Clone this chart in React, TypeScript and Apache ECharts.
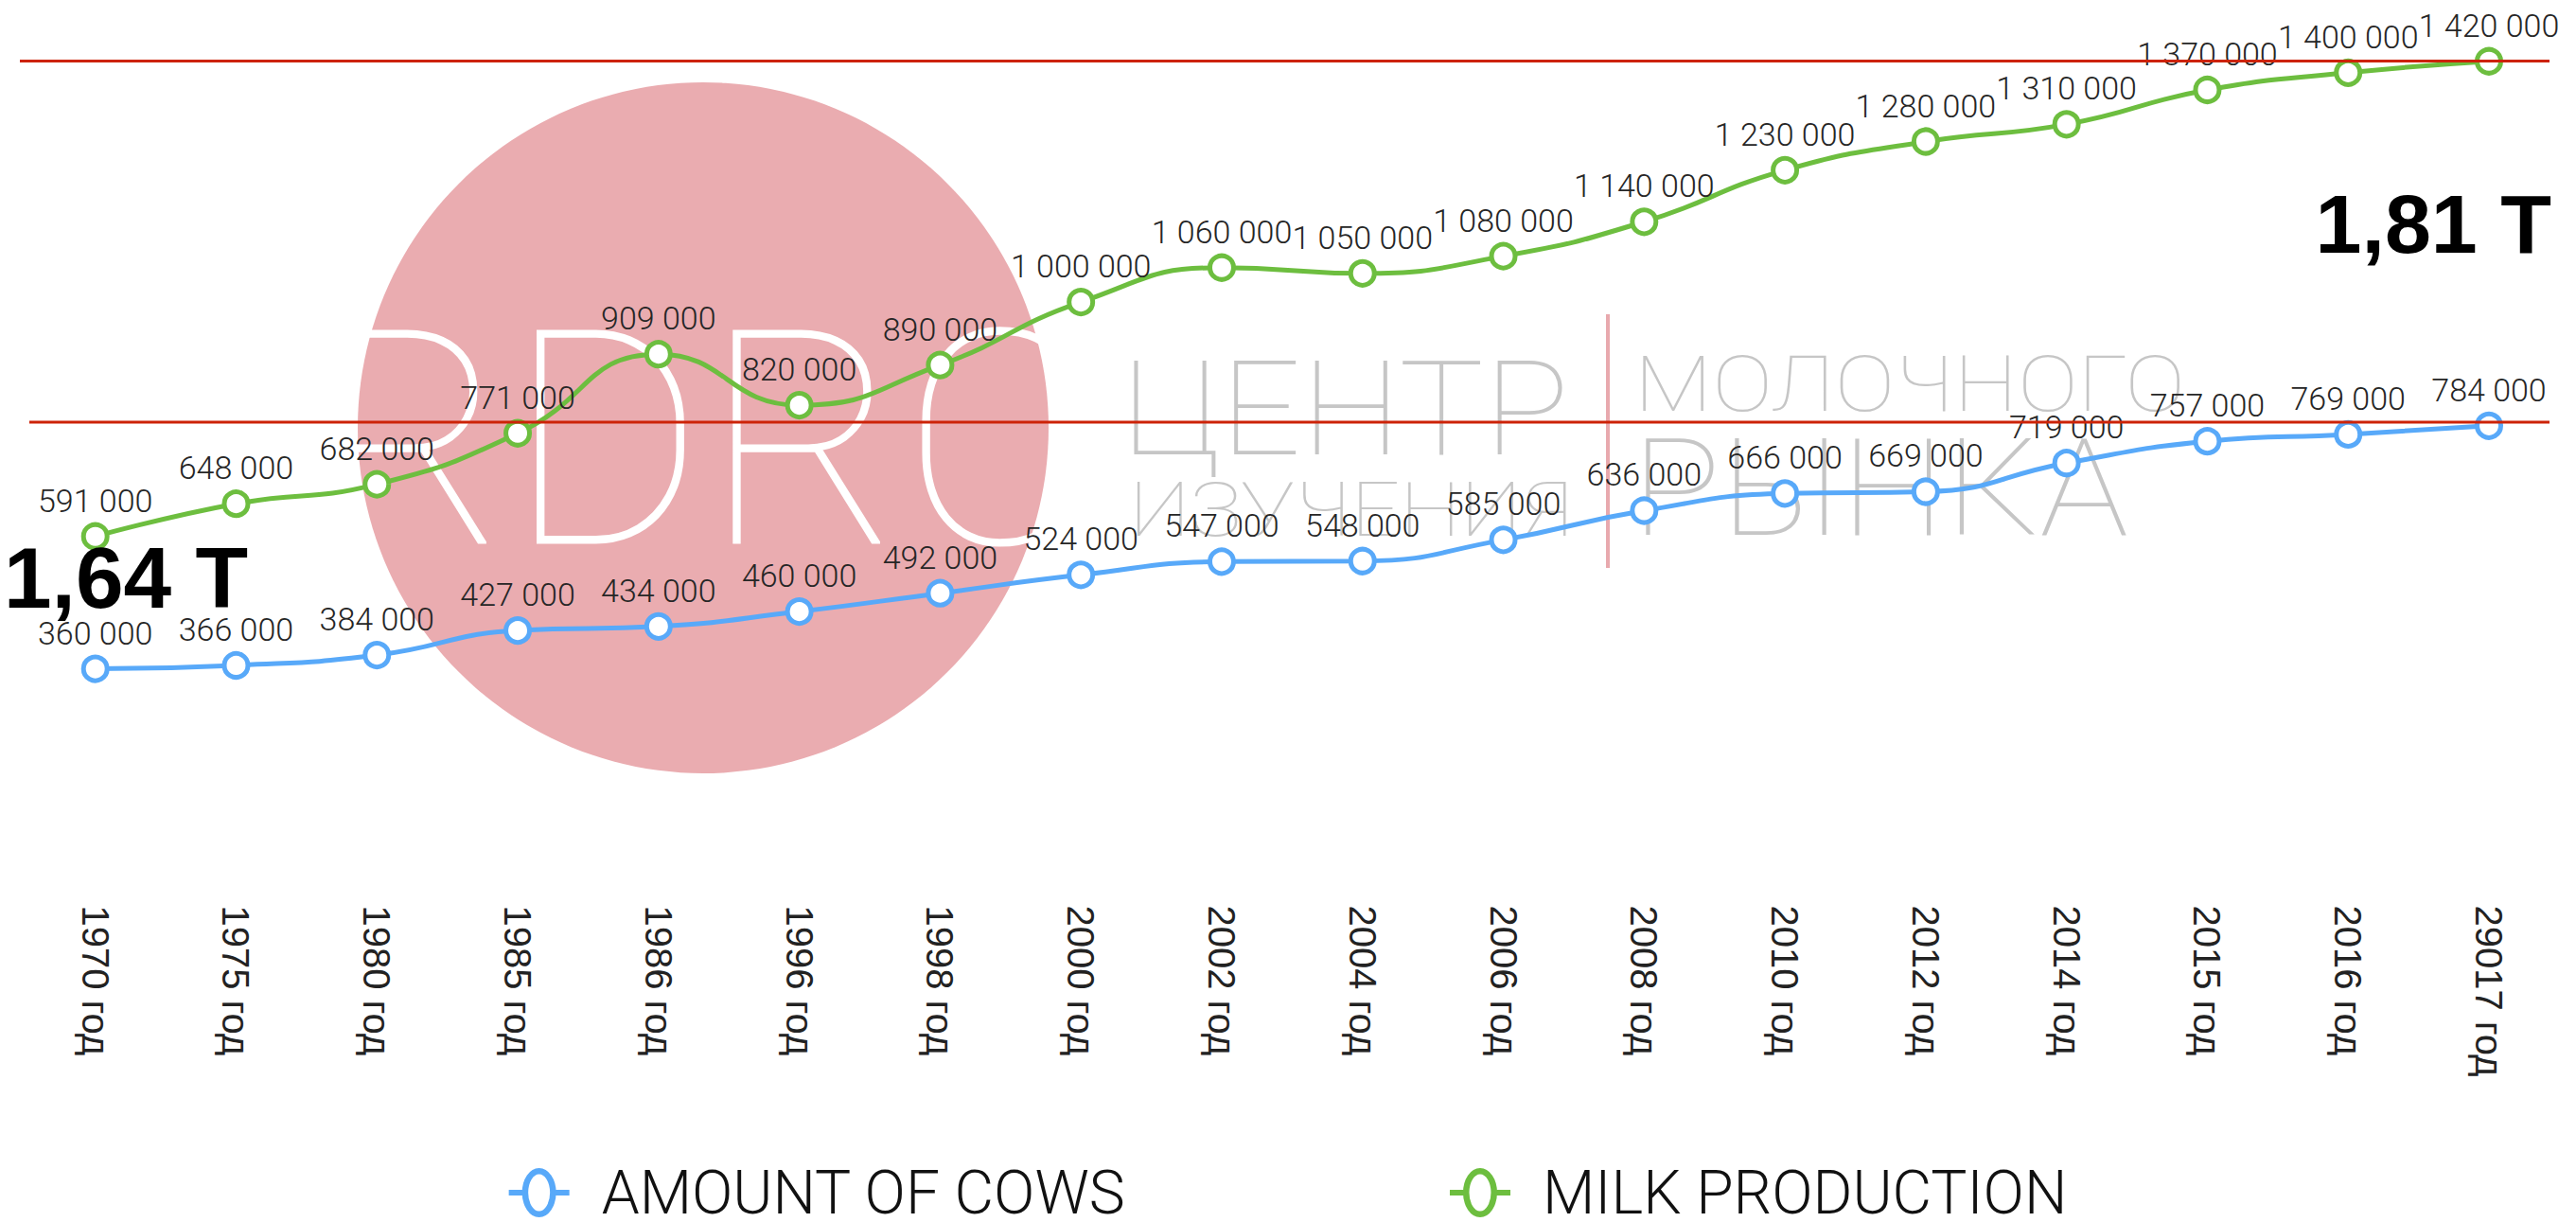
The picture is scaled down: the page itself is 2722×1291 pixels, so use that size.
import React, { useEffect, useRef } from 'react';
import * as echarts from 'echarts';

const categories = [
  '1970 год', '1975 год', '1980 год', '1985 год', '1986 год', '1996 год',
  '1998 год', '2000 год', '2002 год', '2004 год', '2006 год', '2008 год',
  '2010 год', '2012 год', '2014 год', '2015 год', '2016 год', '29017 год',
];
const cowsValues = [
  360000, 366000, 384000, 427000, 434000, 460000, 492000, 524000, 547000,
  548000, 585000, 636000, 666000, 669000, 719000, 757000, 769000, 784000,
];
const milkValues = [
  591000, 648000, 682000, 771000, 909000, 820000, 890000, 1000000, 1060000,
  1050000, 1080000, 1140000, 1230000, 1280000, 1310000, 1370000, 1400000, 1420000,
];
const seriesNames = ['AMOUNT OF COWS', 'MILK PRODUCTION'];
const totals = ['1,64 T', '1,81 T'];
const logoWords = ['RDRC', 'ЦЕНТР', 'ИЗУЧЕНИЯ', 'МОЛОЧНОГО', 'РЫНКА'];

const BLUE = '#58A9F9';
const GREEN = '#6DBE3F';
const RED = '#CD2308';
const PINK = '#EAACB0';
const GRAY = '#C6C6C6';

const fmt = (v: number) => String(v).replace(/\B(?=(\d{3})+(?!\d))/g, ' ');

const LIGHT = 'Roboto, "Liberation Sans", sans-serif';
const THIN = 'Roboto, Lato, Inter, sans-serif';

const legendIcon =
  'path://M14,26 A17,25 0 1,1 48,26 A17,25 0 1,1 14,26 Z M18.5,26 A12.5,20.5 0 1,0 43.5,26 A12.5,20.5 0 1,0 18.5,26 Z M0,24 H14.5 V28 H0 Z M47.5,24 H62 V28 H47.5 Z';

export default function App() {
  const ref = useRef<HTMLDivElement>(null);
  useEffect(() => {
    const chart = echarts.init(ref.current!, null, { renderer: 'svg' });
    const labelStyle = {
      show: true,
      position: 'top',
      distance: 6,
      formatter: (p: any) => fmt(p.value),
      fontFamily: LIGHT,
      fontWeight: 300,
      fontSize: 34,
      color: '#262626',
    };
    const mkSeries = (name: string, data: number[], color: string) => ({
      name,
      type: 'line',
      data,
      smooth: true,
      symbol: 'circle',
      symbolSize: 25,
      itemStyle: { color: '#ffffff', borderColor: color, borderWidth: 5 },
      lineStyle: { color, width: 5 },
      label: labelStyle,
      z: 3,
    });
    const option: any = {
      animation: false,
      backgroundColor: '#ffffff',
      grid: { left: 26.3, right: 17.6, top: 16.3, bottom: 366.4, containLabel: false },
      xAxis: {
        type: 'category',
        data: categories,
        boundaryGap: true,
        axisLine: { show: false },
        axisTick: { show: false },
        axisLabel: {
          rotate: -90,
          margin: 32,
          interval: 0,
          fontFamily: '"Liberation Sans", Arial, sans-serif',
          fontSize: 40,
          color: '#222',
        },
      },
      yAxis: {
        type: 'value',
        min: 0,
        max: 1500000,
        show: false,
        splitLine: { show: false },
      },
      legend: {
        left: 'center',
        top: 1228,
        padding: 0,
        itemWidth: 62,
        itemHeight: 52,
        itemGap: 342,
        data: [
          { name: seriesNames[0], icon: legendIcon, itemStyle: { color: BLUE } },
          { name: seriesNames[1], icon: legendIcon, itemStyle: { color: GREEN } },
        ],
        formatter: (n: string) => '{a|' + n + '}',
        textStyle: {
          rich: {
            a: {
              fontFamily: LIGHT,
              fontWeight: 300,
              fontSize: 64,
              color: '#111',
              padding: [0, 0, 0, 30],
              lineHeight: 60,
            },
          },
        },
      },
      series: [
        mkSeries(seriesNames[0], cowsValues, BLUE),
        mkSeries(seriesNames[1], milkValues, GREEN),
      ],
      graphic: [
        { type: 'circle', z: 0, shape: { cx: 743, cy: 452, r: 365 }, style: { fill: PINK } },
        {
          type: 'text', z: 1, x: 743, y: 466,
          style: { text: logoWords[0], fill: '#ffffff', fontFamily: THIN, fontWeight: 100, fontSize: 318, align: 'center', verticalAlign: 'middle' },
        },
        {
          type: 'text', z: 1, x: 1185, y: 432, scaleX: 1.08,
          style: { text: logoWords[1], fill: GRAY, fontFamily: THIN, fontWeight: 100, fontSize: 139, align: 'left', verticalAlign: 'middle' },
        },
        {
          type: 'text', z: 1, x: 1193, y: 538, scaleX: 1.14,
          style: { text: logoWords[2], fill: GRAY, fontFamily: THIN, fontWeight: 100, fontSize: 80, align: 'left', verticalAlign: 'middle' },
        },
        { type: 'rect', z: 1, shape: { x: 1697, y: 332, width: 4, height: 268 }, style: { fill: '#E8A9AE' } },
        {
          type: 'text', z: 1, x: 1727, y: 406, scaleX: 1.17,
          style: { text: logoWords[3], fill: GRAY, fontFamily: THIN, fontWeight: 100, fontSize: 82, align: 'left', verticalAlign: 'middle' },
        },
        {
          type: 'text', z: 1, x: 1724, y: 516, scaleX: 1.1,
          style: { text: logoWords[4], fill: GRAY, fontFamily: THIN, fontWeight: 100, fontSize: 143, align: 'left', verticalAlign: 'middle' },
        },
        { type: 'line', z: 20, shape: { x1: 21, y1: 64.5, x2: 2694, y2: 64.5 }, style: { stroke: RED, lineWidth: 3 } },
        { type: 'line', z: 20, shape: { x1: 31, y1: 446, x2: 2694, y2: 446 }, style: { stroke: RED, lineWidth: 3 } },
        {
          type: 'text', z: 20, x: 4, y: 610,
          style: { text: totals[0], fill: '#000', fontFamily: '"Liberation Sans", Arial, sans-serif', fontWeight: 'bold', fontSize: 91, align: 'left', verticalAlign: 'middle' },
        },
        {
          type: 'text', z: 20, x: 2696, y: 236,
          style: { text: totals[1], fill: '#000', fontFamily: '"Liberation Sans", Arial, sans-serif', fontWeight: 'bold', fontSize: 88, align: 'right', verticalAlign: 'middle' },
        },
      ],
    };
    chart.setOption(option);
    return () => chart.dispose();
  }, []);
  return (
    <div
      ref={ref}
      style={{ position: 'fixed', left: 0, top: 0, width: 2722, height: 1291, background: '#fff' }}
    />
  );
}
